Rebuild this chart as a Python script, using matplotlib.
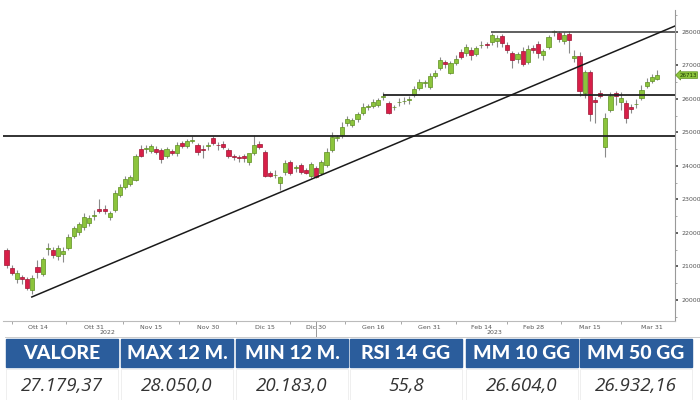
import numpy as np
import matplotlib.pyplot as plt
from matplotlib.lines import Line2D
from matplotlib.patches import Rectangle
from matplotlib.transforms import blended_transform_factory

# daily candles (Oct 2022 - Mar 2023)
opens = [21493, 20955, 20627, 20687, 20627, 20299, 20985, 20776, 21521, 21493,
         21313, 21373, 21552, 21910, 22030, 22179, 22299, 22510, 22716, 22716,
         22478, 22687, 23134, 23373, 23463, 23582, 24507, 24500, 24448, 24507,
         24478, 24299, 24448, 24388, 24687, 24597, 24760, 24627, 24507, 24590,
         24836, 24627, 24657, 24478, 24269, 24239, 24299, 24119, 24388, 24657,
         24418, 23791, 23720, 23493, 23821, 24119, 23940, 24030, 23881, 23701,
         23940, 23791, 24030, 24478, 24830, 24925, 25284, 25224, 25403, 25582,
         25760, 25791, 25821, 26050, 25881, 25750, 25900, 25930, 25960, 26119,
         26328, 26470, 26358, 26687, 26925, 27105, 26776, 27075, 27403, 27373,
         27463, 27343, 27600, 27620, 27701, 27731, 27881, 27612, 27373, 27194,
         27433, 27105, 27522, 27642, 27313, 27552, 27990, 27970, 27731, 27940,
         27224, 27284, 26179, 26806, 25970, 26179, 24567, 25672, 26179, 25910,
         25881, 25761, 25840, 26030, 26388, 26537, 26597]
highs = [21560, 21045, 20896, 20746, 20687, 20746, 21194, 21284, 21701, 21582,
         21640, 21582, 21970, 22209, 22328, 22597, 22537, 22687, 23015, 22836,
         22657, 23284, 23463, 23701, 23731, 24358, 24627, 24627, 24657, 24597,
         24537, 24567, 24507, 24716, 24746, 24806, 24896, 24687, 24627, 24716,
         24896, 24716, 24746, 24537, 24358, 24328, 24358, 24328, 24925, 24746,
         24478, 23851, 23881, 23701, 24179, 24179, 24030, 24090, 23940, 24119,
         24000, 24179, 24537, 25015, 24925, 25313, 25493, 25433, 25612, 25880,
         25851, 26000, 26030, 26209, 25940, 25821, 26030, 26060, 26090, 26388,
         26597, 26567, 26776, 26866, 27254, 27164, 27134, 27313, 27493, 27642,
         27552, 27582, 27731, 27701, 27970, 27910, 27940, 27701, 27433, 27403,
         27552, 27612, 27612, 27731, 27493, 27910, 28050, 28030, 28000, 28030,
         27463, 27403, 26866, 26866, 26060, 26269, 25582, 26209, 26239, 26209,
         25970, 25851, 26000, 26418, 26627, 26746, 26866]
lows = [20955, 20740, 20507, 20480, 20299, 20183, 20657, 20716, 21343, 21254,
        21194, 21134, 21493, 21851, 21940, 22090, 22210, 22388, 22597, 22567,
        22388, 22627, 23075, 23313, 23403, 23552, 24269, 24388, 24388, 24358,
        24090, 24239, 24328, 24299, 24537, 24537, 24687, 24328, 24239, 24478,
        24627, 24478, 24507, 24239, 24179, 24119, 24119, 24030, 24328, 24507,
        23672, 23672, 23642, 23284, 23731, 23731, 23821, 23761, 23761, 23642,
        23642, 23731, 23970, 24418, 24746, 24836, 25194, 25164, 25313, 25522,
        25672, 25731, 25761, 25970, 25552, 25672, 25791, 25851, 25851, 26060,
        26269, 26358, 26299, 26627, 26866, 26925, 26746, 27015, 27194, 27284,
        27164, 27284, 27522, 27522, 27612, 27552, 27552, 27373, 26925, 27075,
        26985, 27045, 27373, 27224, 27164, 27493, 27881, 27701, 27642, 27373,
        27105, 26090, 26030, 25343, 25284, 26030, 24269, 25612, 25821, 25672,
        25284, 25582, 25731, 25970, 26328, 26478, 26567]
closes = [21045, 20806, 20806, 20627, 20358, 20657, 20836, 21224, 21552, 21343,
          21552, 21463, 21881, 22149, 22269, 22478, 22448, 22537, 22657, 22657,
          22597, 23194, 23373, 23612, 23672, 24299, 24299, 24510, 24597, 24418,
          24209, 24507, 24388, 24627, 24597, 24746, 24776, 24418, 24490, 24610,
          24687, 24612, 24567, 24299, 24260, 24230, 24239, 24388, 24627, 24567,
          23701, 23701, 23731, 23672, 24090, 23791, 23950, 23821, 23791, 24060,
          23672, 24119, 24418, 24866, 24850, 25164, 25403, 25373, 25552, 25761,
          25770, 25910, 25970, 26060, 25582, 25761, 25910, 25940, 25970, 26299,
          26507, 26480, 26687, 26776, 27164, 27045, 27075, 27194, 27254, 27552,
          27313, 27522, 27612, 27612, 27910, 27821, 27672, 27463, 27164, 27343,
          27045, 27493, 27463, 27373, 27433, 27851, 28000, 27791, 27910, 27761,
          27284, 26239, 26806, 25552, 25910, 26090, 25433, 26090, 26090, 26030,
          25433, 25701, 25851, 26269, 26507, 26657, 26716]

date_pos = [6, 17, 28, 39, 50, 60, 71, 82, 92, 102, 113, 125]
date_labels = ["Ott 14", "Ott 31", "Nov 15", "Nov 30", "Dic 15", "Dic 30",
               "Gen 16", "Gen 31", "Feb 14", "Feb 28", "Mar 15", "Mar 31"]
year_pos = [19.5, 94.6]
year_labels = ["2022", "2023"]
year_break = 60.0

# support / resistance levels and trend line
resist_top = 27990
resist_top_from = 93.8
resist_mid = 26119
resist_mid_from = 73.0
support_low = 24896
trend_x = [4.9, 129.5]
trend_y = [20090, 28179]
last_price = 26713

headers = ["VALORE", "MAX 12 M.", "MIN 12 M.", "RSI 14 GG", "MM 10 GG", "MM 50 GG"]
values = ["27.179,37", "28.050,0", "20.183,0", "55,8", "26.604,0", "26.932,16"]

GREEN, GREEN_EDGE = "#8cc43c", "#5d8f1f"
RED, RED_EDGE = "#d81f48", "#9e1533"

fig = plt.figure(figsize=(7, 4), dpi=100)
ax = fig.add_axes([3 / 700, 79 / 400, 672 / 700, 321 / 400])

o = np.array(opens)
h = np.array(highs)
l = np.array(lows)
c = np.array(closes)
idx = np.arange(len(o))
up = c >= o
body_lo = np.minimum(o, c)
body_h = np.maximum(np.abs(c - o), 25)

ax.vlines(idx, l, h, color="#8a8a8a", lw=0.8, zorder=2)
ax.bar(idx[up], body_h[up], bottom=body_lo[up], width=0.8,
       color=GREEN, edgecolor=GREEN_EDGE, linewidth=0.5, zorder=3)
ax.bar(idx[~up], body_h[~up], bottom=body_lo[~up], width=0.8,
       color=RED, edgecolor=RED_EDGE, linewidth=0.5, zorder=3)

xmin, xmax = -0.68, 129.5
ax.set_xlim(xmin, xmax)
ax.set_ylim(19373, 28955)

ax.hlines(resist_top, resist_top_from, xmax, color="#444444", lw=1.2, zorder=4)
ax.hlines(resist_mid, resist_mid_from, xmax, color="#222222", lw=1.3, zorder=4)
ax.hlines(support_low, xmin, xmax, color="#222222", lw=1.3, zorder=4)
ax.plot(trend_x, trend_y, color="#1a1a1a", lw=1.1, zorder=4)

# axes styling
for s in ["top", "left"]:
    ax.spines[s].set_visible(False)
ax.spines["right"].set_color("#999999")
ax.spines["right"].set_bounds(19373, 28650)
ax.spines["bottom"].set_color("#bbbbbb")
ax.yaxis.tick_right()
ax.set_yticks(np.arange(20000, 28001, 1000))
ax.set_yticks(np.arange(19500, 28501, 500), minor=True)
ax.tick_params(axis="y", which="major", length=2.5, width=1.2, color="#444444",
               labelsize=4.5, labelcolor="#555555", pad=2)
ax.tick_params(axis="y", which="minor", length=1.5, width=0.6, color="#999999")
ax.set_xticks(date_pos)
ax.set_xticklabels(date_labels)
mids = [(a + b) / 2 for a, b in zip(date_pos[:-1], date_pos[1:])]
ax.set_xticks([1.0] + mids, minor=True)
ax.tick_params(axis="x", which="major", length=0, labelsize=4.5,
               labelcolor="#555555", pad=3)
ax.tick_params(axis="x", which="minor", length=2, width=0.6, color="#999999")

trans = blended_transform_factory(ax.transData, fig.transFigure)
for xp, yl in zip(year_pos, year_labels):
    ax.text(xp, 1 - 333 / 400, yl, transform=trans, fontsize=4.5,
            color="#555555", ha="center", va="center")
ax.add_line(Line2D([year_break, year_break], [1 - 322 / 400, 1 - 337 / 400],
                   transform=trans, color="#999999", lw=0.7, clip_on=False))
fig.add_artist(Line2D([5 / 700, 1], [1 - 337 / 400] * 2, color="#cccccc", lw=0.7))

# last price flag
ax.annotate(str(last_price), xy=(xmax, last_price), xytext=(3, 0),
            textcoords="offset points", fontsize=4, color="#1d3b05",
            va="center", ha="left", annotation_clip=False,
            bbox=dict(boxstyle="larrow,pad=0.15", fc=GREEN, ec=GREEN_EDGE, lw=0.5))

# summary table
tab = fig.add_axes([0, 0, 1, 62 / 400])
tab.set_xlim(0, 700)
tab.set_ylim(62, 0)
tab.axis("off")
lefts = [6, 121, 236, 350, 466, 580]
width = 112
for x0, head, val in zip(lefts, headers, values):
    tab.add_patch(Rectangle((x0, 1), width, 28, color="#2b5d9c"))
    tab.add_patch(Rectangle((x0, 31), width, 31, fc="white", ec="#ececec", lw=0.6))
    tab.text(x0 + width / 2, 15.5, head, ha="center", va="center", color="white",
             fontsize=14, fontweight="black", family=["Lato", "DejaVu Sans"])
    tab.text(x0 + width / 2, 48, val, ha="center", va="center", color="#333333",
             fontsize=13.5, style="italic", family=["Open Sans", "DejaVu Sans"])

fig.savefig("out.png", dpi=100)
